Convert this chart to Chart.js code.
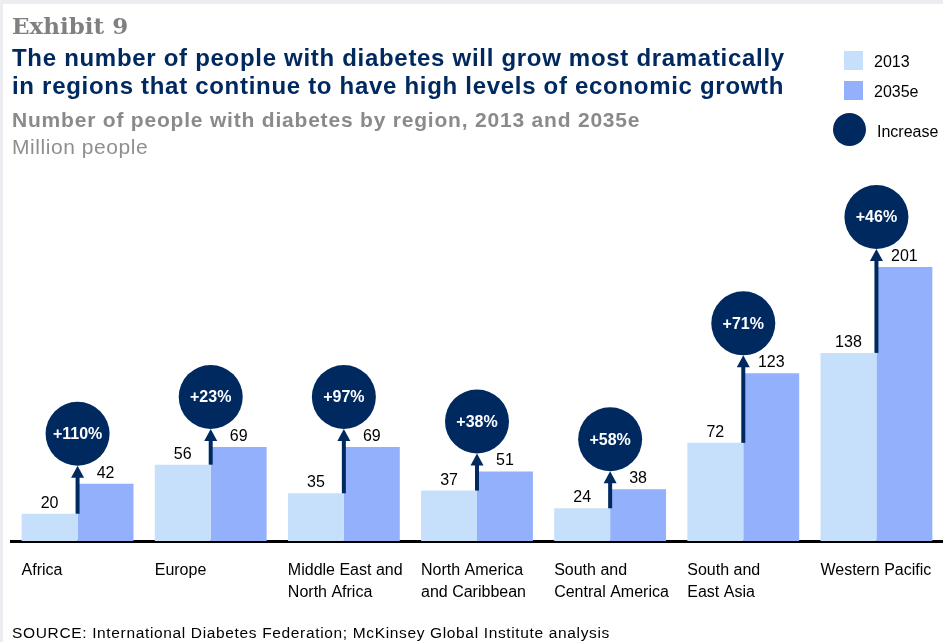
<!DOCTYPE html>
<html>
<head>
<meta charset="utf-8">
<script src="https://cdn.jsdelivr.net/npm/chart.js@4"></script>
<style>
  html, body { margin: 0; padding: 0; }
  body { width: 943px; height: 642px; background: #ebedf0; position: relative; overflow: hidden; font-family: "Liberation Sans", Arial, sans-serif; }
  #sheet { position: absolute; left: 3px; top: 4px; right: 0; bottom: 0; background: #fff; }
  #chartCanvas { position: absolute; left: 0; top: 0; }
  .txt { position: absolute; white-space: nowrap; }
  #exhibit { left: 12px; top: 12px; font: bold 23px/28px "DejaVu Serif", Georgia, serif; color: #808080; }
  #title { left: 12px; top: 44px; font: bold 24px/28px "Liberation Sans", Arial, sans-serif; letter-spacing: 0.7px; color: #002960; }
  #subtitle { left: 12px; top: 108px; font: bold 21px/24px "Liberation Sans", Arial, sans-serif; letter-spacing: 0.8px; color: #8a8a8a; }
  #unit { left: 12px; top: 135px; font: 21px/24px "Liberation Sans", Arial, sans-serif; letter-spacing: 0.55px; color: #8f8f8f; }
  .sw { position: absolute; width: 19px; height: 19px; }
  .lg { position: absolute; font: 16px/19px "Liberation Sans", Arial, sans-serif; color: #000; }
  #source { left: 12px; top: 624px; font: 15.5px/18px "Liberation Sans", Arial, sans-serif; letter-spacing: 0.65px; color: #000; }
</style>
</head>
<body>
<div id="sheet"></div>
<canvas id="chartCanvas" width="943" height="642"></canvas>

<div class="txt" id="exhibit">Exhibit 9</div>
<div class="txt" id="title">The number of people with diabetes will grow most dramatically<br>in regions that continue to have high levels of economic growth</div>
<div class="txt" id="subtitle">Number of people with diabetes by region, 2013 and 2035e</div>
<div class="txt" id="unit">Million people</div>

<div class="sw" style="left:844px; top:51px; background:#c6dffa;"></div>
<div class="lg" style="left:874px; top:52px;">2013</div>
<div class="sw" style="left:844px; top:81px; background:#92b0fc;"></div>
<div class="lg" style="left:874px; top:82px;">2035e</div>
<div class="sw" style="left:833px; top:113px; width:33px; height:33px; border-radius:50%; background:#002960;"></div>
<div class="lg" style="left:877px; top:122px;">Increase</div>

<div class="txt" id="source">SOURCE: International Diabetes Federation; McKinsey Global Institute analysis</div>

<script>
// data
const regions = [
  ['Africa'],
  ['Europe'],
  ['Middle East and', 'North Africa'],
  ['North America', 'and Caribbean'],
  ['South and', 'Central America'],
  ['South and', 'East Asia'],
  ['Western Pacific']
];
const seriesNames = ['2013', '2035e'];
const people2013 = [20, 56, 35, 37, 24, 72, 138];
const people2035 = [42, 69, 69, 51, 38, 123, 201];

const navy = '#002960';
const fontFamily = '"Liberation Sans", Arial, sans-serif';

// value labels, arrows and increase bubbles
const annotate = {
  id: 'annotate',
  afterDatasetsDraw(chart) {
    const ctx = chart.ctx;
    const first = chart.getDatasetMeta(0).data;
    const second = chart.getDatasetMeta(1).data;
    ctx.save();

    ctx.font = '16px ' + fontFamily;
    ctx.fillStyle = '#000';
    ctx.textAlign = 'center';
    ctx.textBaseline = 'alphabetic';
    chart.data.datasets.forEach((ds, di) => {
      chart.getDatasetMeta(di).data.forEach((bar, i) => {
        ctx.fillText(ds.data[i], bar.x, bar.y - 6);
      });
    });

    first.forEach((bar, i) => {
      const x = (bar.x + second[i].x) / 2;
      const r = 32;
      const cy = second[i].y - 50;
      const tip = cy + r;
      ctx.fillStyle = navy;
      // shaft
      ctx.fillRect(x - 2, tip + 10, 4, bar.y - tip - 10);
      // head
      ctx.beginPath();
      ctx.moveTo(x, tip);
      ctx.lineTo(x - 6.5, tip + 12);
      ctx.lineTo(x + 6.5, tip + 12);
      ctx.closePath();
      ctx.fill();
      // bubble
      ctx.beginPath();
      ctx.arc(x, cy, r, 0, Math.PI * 2);
      ctx.fill();
      const pct = Math.round((people2035[i] / people2013[i] - 1) * 100);
      ctx.fillStyle = '#fff';
      ctx.font = 'bold 16px ' + fontFamily;
      ctx.textBaseline = 'middle';
      ctx.fillText('+' + pct + '%', x, cy + 1);
      ctx.textBaseline = 'alphabetic';
    });
    ctx.restore();
  }
};

new Chart(document.getElementById('chartCanvas'), {
  type: 'bar',
  data: {
    labels: regions,
    datasets: [
      { label: seriesNames[0], data: people2013, backgroundColor: '#c6dffa', borderWidth: 0 },
      { label: seriesNames[1], data: people2035, backgroundColor: '#92b0fc', borderWidth: 0 }
    ]
  },
  options: {
    responsive: false,
    animation: false,
    layout: { padding: { left: 11, right: 0, top: 173, bottom: 0 } },
    datasets: { bar: { categoryPercentage: 0.84, barPercentage: 1 } },
    plugins: { legend: { display: false }, tooltip: { enabled: false }, title: { display: false } },
    scales: {
      x: {
        grid: { display: false, drawTicks: false },
        border: { display: true, color: '#000', width: 3 },
        ticks: {
          color: '#000',
          font: { family: fontFamily, size: 16, lineHeight: 1.35 },
          align: 'start',
          labelOffset: -56,
          padding: 19,
          maxRotation: 0,
          autoSkip: false
        },
        afterFit(axis) {
          axis.paddingLeft = 0;
          axis.paddingRight = 0;
          axis.height = 101;
        }
      },
      y: { display: false, min: 0, max: 270 }
    }
  },
  plugins: [annotate]
});
</script>
</body>
</html>
